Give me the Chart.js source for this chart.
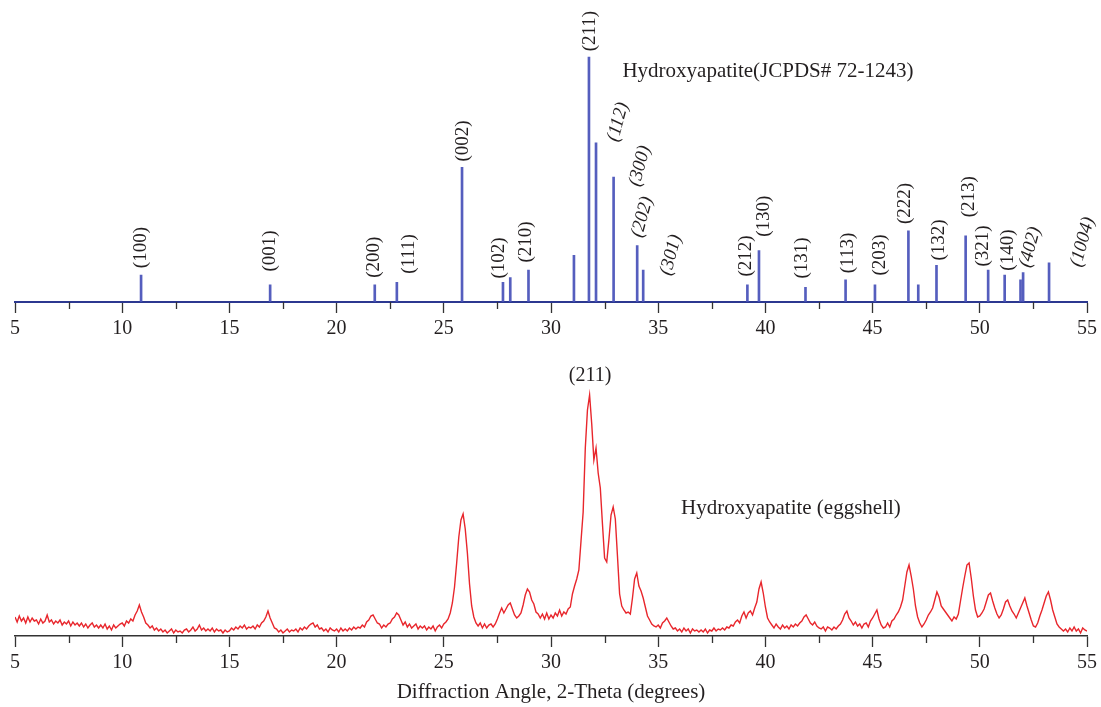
<!DOCTYPE html>
<html>
<head>
<meta charset="utf-8">
<title>XRD - Hydroxyapatite</title>
<script src="https://cdn.jsdelivr.net/npm/chart.js@4.4.1/dist/chart.umd.min.js"></script>
<style>
  html, body { margin: 0; padding: 0; background: #fff; }
  #wrap { position: relative; width: 1101px; height: 707px; }
  #refChart { position: absolute; left: 0; top: 0; }
  #sampleChart { position: absolute; left: 0; top: 340px; }
</style>
</head>
<body>
<div id="wrap">
  <canvas id="refChart" width="1101" height="345"></canvas>
  <canvas id="sampleChart" width="1101" height="367"></canvas>
</div>
<script>
//////////////////////// Data ////////////////////////
// reference pattern, JCPDS# 72-1243 (2-theta, relative intensity %)
const refAngles = [10.88, 16.9, 21.78, 22.81, 25.85, 27.76, 28.1, 28.95, 31.07, 31.77, 32.1, 32.92, 34.02, 34.3,
    39.16, 39.7, 41.87, 43.74, 45.11, 46.67, 47.13, 47.98, 49.34, 50.39, 51.16, 51.9, 52.02, 53.23];
const refIntensity = [11, 7, 7, 8, 55, 8, 10, 13, 19, 100, 65, 51, 23, 13,
    7, 21, 6, 9, 7, 29, 7, 15, 27, 13, 11, 9, 12, 16];

// miller indices written over the reference lines
const hklLabels = ['(100)', '(001)', '(200)', '(111)', '(002)', '(102)', '(210)', '(211)', '(112)', '(300)', '(202)', '(301)',
    '(212)', '(130)', '(131)', '(113)', '(203)', '(222)', '(132)', '(213)', '(321)', '(140)', '(402)', '(1004)'];
const hklAngles = [10.87, 16.89, 21.73, 23.36, 25.9, 27.59, 28.85, 31.8, 33.13, 34.15, 34.26, 35.6,
    39.1, 39.92, 41.72, 43.87, 45.33, 46.5, 48.11, 49.48, 50.16, 51.3, 52.35, 54.8];
const hklLevels = [22.2, 20.8, 18.3, 19.6, 65.7, 18, 24.5, 110.6, 73.5, 55.5, 34.7, 19.2,
    18.8, 35, 18, 20, 19.2, 40.2, 25.3, 43, 22.9, 21.2, 22.4, 24.5];
const slantedHkl = ['(112)', '(300)', '(202)', '(301)', '(402)', '(1004)'];

// eggshell scan, one reading every 0.1 degree from 5 to 55 (a.u.)
const scanStart = 5;
const scanStep = 0.1;
const scanCounts = [
    19, 14, 20, 15, 18, 13, 19, 14, 18, 15,
    16, 12, 17, 13, 15, 21, 14, 16, 12, 15,
    13, 16, 11, 14, 12, 15, 10, 14, 11, 13,
    10, 13, 9, 12, 8, 11, 13, 9, 11, 8,
    11, 8, 12, 7, 10, 6, 11, 8, 10, 12,
    13, 10, 15, 13, 17, 15, 21, 25, 31, 24,
    19, 13, 11, 8, 10, 6, 8, 5, 7, 4,
    6, 3, 5, 7, 3, 6, 4, 5, 3, 6,
    7, 4, 6, 9, 5, 7, 11, 6, 8, 5,
    7, 5, 8, 4, 7, 5, 6, 3, 6, 4,
    5, 8, 6, 9, 7, 10, 8, 11, 7, 9,
    8, 10, 7, 11, 9, 13, 15, 19, 25, 18,
    13, 8, 7, 4, 6, 3, 5, 7, 4, 6,
    5, 7, 4, 8, 6, 9, 7, 10, 12, 13,
    9, 11, 7, 8, 5, 7, 4, 8, 6, 5,
    7, 4, 8, 5, 7, 5, 8, 6, 9, 7,
    9, 8, 11, 9, 14, 16, 20, 21, 17, 13,
    12, 8, 11, 9, 12, 13, 17, 19, 23, 21,
    16, 11, 14, 9, 12, 8, 10, 12, 7, 10,
    8, 10, 6, 9, 7, 10, 5, 9, 11, 8,
    12, 14, 17, 23, 33, 49, 73, 99, 116, 122,
    107, 83, 52, 30, 19, 13, 10, 13, 8, 12,
    8, 11, 12, 9, 12, 17, 23, 28, 23, 27,
    31, 33, 27, 21, 18, 20, 23, 31, 41, 47,
    44, 36, 32, 24, 22, 18, 22, 17, 23, 17,
    21, 18, 23, 20, 26, 20, 24, 22, 27, 29,
    42, 50, 57, 66, 95, 124, 188, 226, 241, 212,
    176, 188, 163, 148, 112, 78, 74, 96, 121, 129,
    117, 80, 42, 30, 26, 23, 24, 22, 38, 57,
    63, 50, 45, 38, 29, 20, 16, 12, 10, 9,
    11, 8, 13, 15, 18, 14, 10, 7, 8, 5,
    7, 4, 8, 5, 7, 3, 7, 5, 6, 4,
    6, 4, 7, 3, 6, 5, 8, 5, 7, 6,
    8, 6, 9, 8, 11, 10, 14, 16, 13, 20,
    24, 18, 23, 25, 21, 28, 34, 47, 54, 43,
    29, 18, 14, 11, 8, 12, 9, 7, 11, 8,
    10, 7, 11, 9, 12, 10, 13, 15, 19, 21,
    17, 13, 11, 14, 10, 8, 7, 9, 5, 9,
    8, 6, 9, 7, 10, 12, 16, 22, 25, 18,
    15, 11, 14, 10, 12, 8, 12, 13, 9, 15,
    18, 22, 26, 17, 11, 8, 9, 13, 9, 15,
    17, 21, 24, 29, 36, 50, 64, 71, 60, 47,
    30, 19, 13, 9, 12, 16, 21, 24, 28, 36,
    44, 39, 30, 27, 24, 21, 18, 15, 19, 17,
    22, 35, 48, 60, 71, 73, 58, 40, 26, 19,
    20, 23, 27, 34, 41, 43, 35, 28, 22, 18,
    21, 27, 34, 36, 30, 25, 22, 18, 23, 28,
    33, 38, 30, 23, 16, 10, 9, 13, 20, 26,
    33, 40, 44, 36, 26, 19, 12, 9, 7, 5,
    7, 4, 8, 5, 9, 5, 7, 3, 8, 6,
    5
];

// axis ticks
const majorTicks = [5, 10, 15, 20, 25, 30, 35, 40, 45, 50, 55];
const minorTicks = [7.5, 12.5, 17.5, 22.5, 27.5, 32.5, 37.5, 42.5, 47.5, 52.5];

//////////////////////// Helpers ////////////////////////
const serif = "'Liberation Serif', 'DejaVu Serif', serif";
const inkColor = '#231f20';

// draws the short ticks between the labelled ones
const minorTickPlugin = {
    id: 'minorTicks',
    afterDraw(chart) {
        const { ctx } = chart;
        const x = chart.scales.x;
        ctx.save();
        ctx.strokeStyle = '#333';
        ctx.lineWidth = 1.3;
        minorTicks.forEach(v => {
            const px = Math.round(x.getPixelForValue(v)) + 0.5;
            ctx.beginPath();
            ctx.moveTo(px, x.top);
            ctx.lineTo(px, x.top + 7);
            ctx.stroke();
        });
        ctx.restore();
    }
};

// free text placed in data coordinates
function textPlugin(items) {
    return {
        id: 'freeText',
        afterDatasetsDraw(chart) {
            const { ctx } = chart;
            const { x, y } = chart.scales;
            ctx.save();
            ctx.fillStyle = inkColor;
            ctx.textAlign = 'center';
            ctx.textBaseline = 'middle';
            items.forEach(it => {
                ctx.save();
                ctx.translate(x.getPixelForValue(it.x), y.getPixelForValue(it.y));
                ctx.rotate((it.angle || 0) * Math.PI / 180);
                ctx.font = (it.italic ? 'italic ' : '') + (it.size || 19) + 'px ' + serif;
                ctx.fillText(it.text, 0, 0);
                ctx.restore();
            });
            ctx.restore();
        }
    };
}

function xAxis(height, withTitle) {
    return {
        type: 'linear',
        min: 5,
        max: 55,
        offset: false,
        afterFit: (scale) => { scale.height = height; },
        afterBuildTicks: (scale) => { scale.ticks = majorTicks.map(v => ({ value: v })); },
        ticks: {
            padding: 4,
            color: inkColor,
            maxRotation: 0,
            autoSkip: false,
            font: { family: serif, size: 20 }
        },
        grid: {
            offset: false,
            drawOnChartArea: false,
            drawTicks: true,
            tickLength: 11,
            tickColor: '#333',
            tickWidth: 1.3
        },
        title: {
            display: withTitle,
            text: 'Diffraction Angle, 2-Theta (degrees)',
            color: inkColor,
            padding: { top: 0, bottom: 2 },
            font: { family: serif, size: 21 }
        }
    };
}

//////////////////////// Reference pattern ////////////////////////
document.addEventListener('DOMContentLoaded', () => {
    const hklItems = hklLabels.map((t, i) => {
        const slanted = slantedHkl.includes(t);
        return { text: t, x: hklAngles[i], y: hklLevels[i], angle: slanted ? -75 : -90, italic: slanted };
    });
    hklItems.push({ text: 'Hydroxyapatite(JCPDS# 72-1243)', x: 40.12, y: 93.9, size: 21 });

    const refAxis = xAxis(43, false);
    refAxis.border = { display: true, color: '#2c3890', width: 2 };

    new Chart(document.getElementById('refChart'), {
        type: 'bar',
        data: {
            datasets: [{
                label: 'JCPDS# 72-1243',
                data: refAngles.map((a, i) => ({ x: a, y: refIntensity[i] })),
                backgroundColor: 'rgba(70, 80, 184, 0.92)',
                barThickness: 2,
                grouped: false
            }]
        },
        options: {
            responsive: false,
            animation: false,
            layout: { padding: { left: 15, right: 14, top: 32.5, bottom: 0 } },
            plugins: { legend: { display: false }, tooltip: { enabled: false } },
            scales: {
                x: refAxis,
                y: { display: false, min: 0, max: 110 }
            }
        },
        plugins: [minorTickPlugin, textPlugin(hklItems)]
    });

//////////////////////// Eggshell scan ////////////////////////
    const scanPoints = scanCounts.map((c, i) => ({ x: scanStart + i * scanStep, y: c }));
    const sampleAxis = xAxis(71, true);
    sampleAxis.border = { display: true, color: '#333', width: 1.5 };

    new Chart(document.getElementById('sampleChart'), {
        type: 'line',
        data: {
            datasets: [{
                label: 'Hydroxyapatite (eggshell)',
                data: scanPoints,
                borderColor: 'rgb(232, 38, 44)',
                borderWidth: 1.4,
                pointRadius: 0,
                tension: 0,
                fill: false
            }]
        },
        options: {
            responsive: false,
            animation: false,
            layout: { padding: { left: 15, right: 14, top: 40, bottom: 0 } },
            plugins: { legend: { display: false }, tooltip: { enabled: false } },
            scales: {
                x: sampleAxis,
                y: { display: false, min: 0, max: 256 }
            }
        },
        plugins: [minorTickPlugin, textPlugin([
            { text: '(211)', x: 31.82, y: 260, size: 20 },
            { text: 'Hydroxyapatite (eggshell)', x: 41.19, y: 128, size: 21 }
        ])]
    });
});
</script>
</body>
</html>
